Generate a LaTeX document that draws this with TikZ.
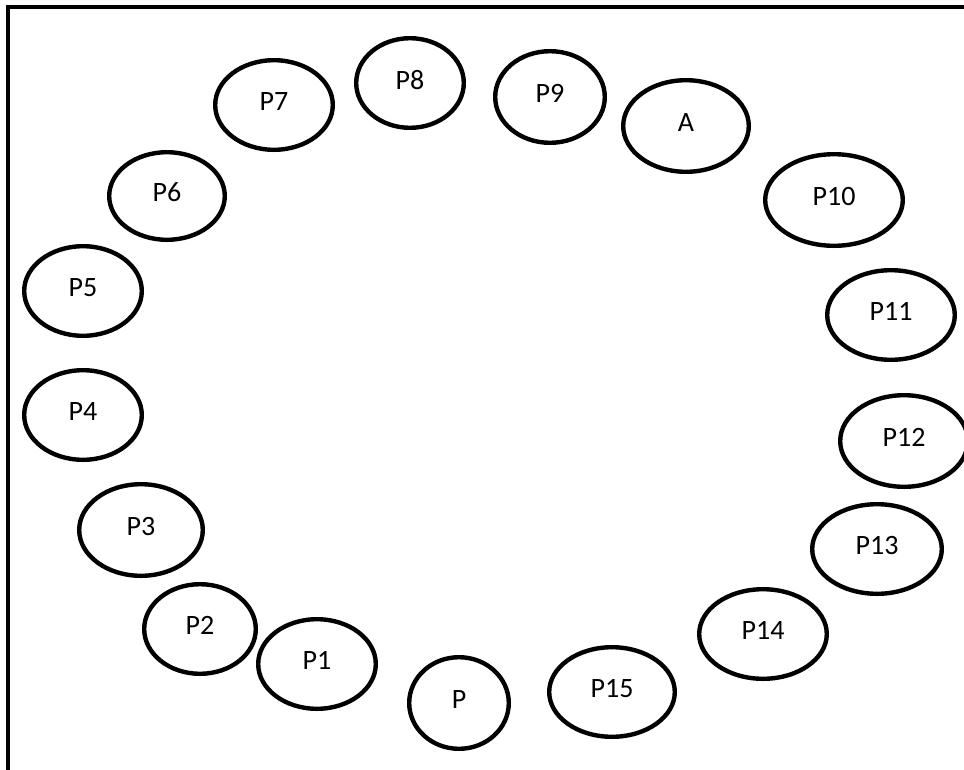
\documentclass[tikz,border=0pt]{standalone}
\usepackage{fontspec}
\setmainfont{Carlito}
\usetikzlibrary{shapes.geometric}
\tikzset{
  ring/.style={draw=black, ellipse, line width=4.4pt, inner sep=0pt,
    font=\fontsize{28}{31}\selectfont, text depth=7pt},
  frameline/.style={line width=4pt, line cap=rect}
}
% oval of outer radii rx, ry (stroke included)
\newcommand\ringnode[5]{%
  \node[ring, minimum width={(2*#4-4.4)*1pt}, minimum height={(2*#5-4.4)*1pt}] (#1) at (#2,#3) {#1};}
\begin{document}
\begin{tikzpicture}[x=1pt, y=-1pt]
  \useasboundingbox (0,0) rectangle (964,769);
  % open frame: only top and left edges
  \coordinate (tl) at (8,7);
  \coordinate (tr) at (966,7);
  \coordinate (bl) at (8,772);
  \draw[frameline] (tr) -- (tl) -- (bl);
  % ring of ovals
  \ringnode{P8}{410}{83}{56}{47}
  \ringnode{P7}{274}{105}{61}{47}
  \ringnode{P9}{550}{97}{57}{48}
  \ringnode{A}{686}{126}{65}{48}
  \ringnode{P10}{834}{200}{71}{48}
  \ringnode{P11}{891}{315}{66}{47}
  \ringnode{P12}{904}{441}{66}{48}
  \ringnode{P13}{877}{549}{67}{47}
  \ringnode{P14}{763}{634}{66}{47}
  \ringnode{P15}{612}{692}{65}{47}
  \ringnode{P}{459}{703}{52}{48}
  \ringnode{P1}{317}{664}{61}{47}
  \ringnode{P2}{200}{629}{58}{47}
  \ringnode{P3}{141}{530}{64}{48}
  \ringnode{P4}{83}{415}{61}{47}
  \ringnode{P5}{83}{291}{61}{47}
  \ringnode{P6}{167}{196}{60}{46}
\end{tikzpicture}
\end{document}
